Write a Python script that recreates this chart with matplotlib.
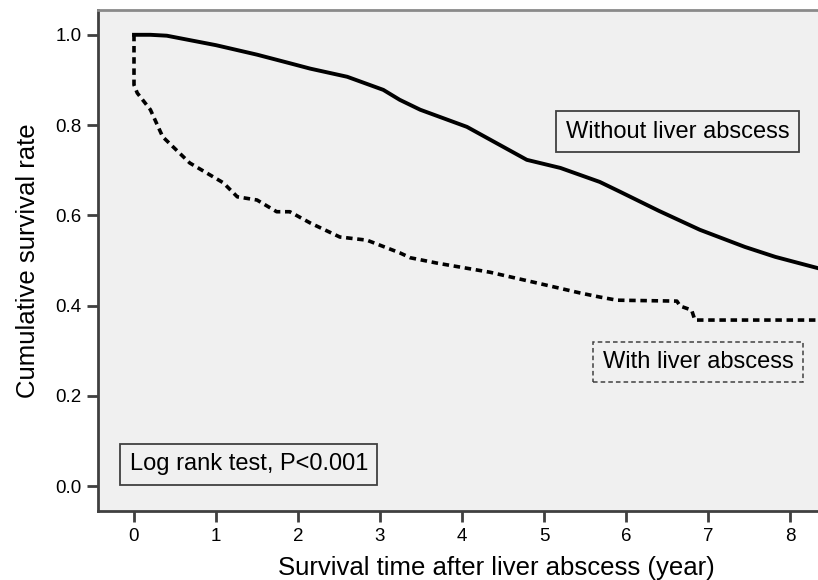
import matplotlib
matplotlib.use("Agg")
import matplotlib.pyplot as plt

plt.rcParams['font.family'] = ['Liberation Sans', 'DejaVu Sans']

# survival curves (time in years, cumulative survival)
without_t = [0.0, 0.2, 0.4, 0.8, 1.0, 1.5, 1.9, 2.15, 2.6, 3.04, 3.24, 3.49, 4.06,
             4.79, 5.2, 5.68, 5.93, 6.4, 6.9, 7.45, 7.82, 8.34]
without_s = [1.0, 1.0, 0.998, 0.984, 0.977, 0.956, 0.937, 0.925, 0.907, 0.878, 0.856,
             0.834, 0.796, 0.723, 0.705, 0.674, 0.652, 0.61, 0.568, 0.53, 0.508, 0.483]

with_t = [0.0, 0.0, 0.0, 0.04, 0.2, 0.35, 0.68, 1.09, 1.26, 1.5, 1.74, 1.9, 2.15,
          2.51, 2.84, 3.24, 3.37, 3.7, 4.34, 4.87, 5.44, 5.68, 5.89, 6.62, 6.66,
          6.8, 6.84, 8.34]
with_s = [1.0, 0.95, 0.889, 0.871, 0.834, 0.774, 0.716, 0.672, 0.641, 0.634, 0.608,
          0.608, 0.583, 0.552, 0.545, 0.517, 0.506, 0.494, 0.474, 0.452, 0.428, 0.419,
          0.412, 0.41, 0.399, 0.39, 0.368, 0.368]

x_ticks = [0, 1, 2, 3, 4, 5, 6, 7, 8]
y_ticks = [0.0, 0.2, 0.4, 0.6, 0.8, 1.0]

fig = plt.figure(figsize=(8.18, 5.80), dpi=100)
ax = fig.add_axes([0.1198, 0.119, 0.8802, 0.8638])
ax.set_facecolor("#f0f0f0")

ax.plot(without_t, without_s, color="black", lw=2.8, solid_joinstyle="round")
ax.plot(with_t, with_s, color="black", lw=2.6, linestyle=(0, (1.8, 1.3)))

ax.set_xlim(-0.439, 8.341)
ax.set_ylim(-0.055, 1.055)
ax.set_xticks(x_ticks)
ax.set_yticks(y_ticks)
ax.set_yticklabels(["%.1f" % v for v in y_ticks])

for side in ["left", "bottom"]:
    ax.spines[side].set_color("#404040")
    ax.spines[side].set_linewidth(2)
ax.spines["top"].set_color("#8a8a8a")
ax.spines["top"].set_linewidth(2)
ax.spines["right"].set_visible(False)

ax.tick_params(axis="both", direction="out", length=8, width=2, color="#404040",
               labelsize=13.5, pad=4)

# the original plot area ran past the right edge, so the x label sits right of centre
ax.set_xlabel("Survival time after liver abscess (year)", fontsize=18.5)
ax.xaxis.set_label_coords(0.553, -0.09)
ax.set_ylabel("Cumulative survival rate", fontsize=18.5, labelpad=11)

ax.text(6.63, 0.785, "Without liver abscess", fontsize=17, ha="center", va="center",
        bbox=dict(boxstyle="square,pad=0.4", fc="#f0f0f0", ec="#404040", lw=1.3))
ax.text(6.88, 0.275, "With liver abscess", fontsize=17, ha="center", va="center",
        bbox=dict(boxstyle="square,pad=0.4", fc="#f0f0f0", ec="#404040", lw=1.1,
                  linestyle=(0, (3, 2))))
ax.text(1.40, 0.048, "Log rank test, P<0.001", fontsize=17, ha="center", va="center",
        bbox=dict(boxstyle="square,pad=0.4", fc="#f0f0f0", ec="#404040", lw=1.3))

fig.savefig("out.png", dpi=100)
